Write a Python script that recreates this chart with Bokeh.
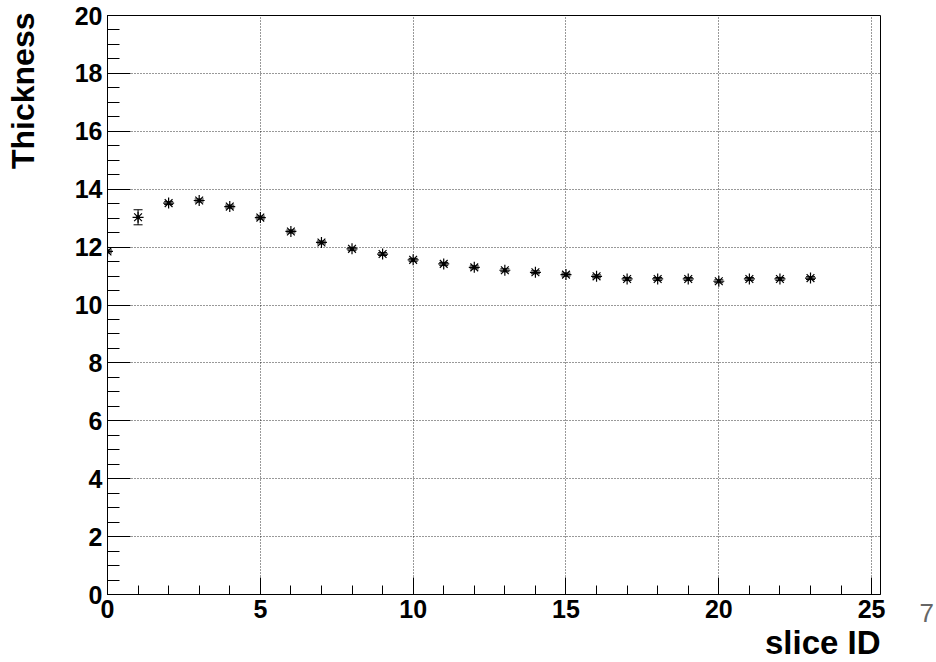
from bokeh.plotting import figure
from bokeh.models import (Range1d, SingleIntervalTicker, FixedTicker, Whisker, TeeHead,
                          ColumnDataSource, Title, LinearAxis)
from bokeh.embed import file_html
from bokeh.resources import INLINE

slice_id = list(range(24))
thickness = [11.85, 13.03, 13.52, 13.61, 13.40, 13.02, 12.54, 12.16, 11.94, 11.76,
             11.56, 11.42, 11.30, 11.20, 11.13, 11.05, 10.99, 10.90, 10.90, 10.90,
             10.82, 10.90, 10.90, 10.93]
thickness_err = [0.05, 0.26, 0.05, 0.05, 0.05, 0.05, 0.05, 0.05, 0.05, 0.05,
                 0.05, 0.05, 0.05, 0.05, 0.05, 0.05, 0.05, 0.05, 0.05, 0.05,
                 0.05, 0.05, 0.05, 0.05]
x_title = "slice ID"
y_title = "Thickness"
page_number = "7"

FONT = "Liberation Sans"

p = figure(width=936, height=662, output_backend="svg", toolbar_location=None,
           x_range=Range1d(0, 25.29), y_range=Range1d(0, 20),
           min_border_left=107, min_border_right=55, min_border_top=15, min_border_bottom=66)
p.background_fill_color = "white"
p.border_fill_color = "white"
p.outline_line_color = "black"
p.outline_line_width = 1

p.xaxis.ticker = SingleIntervalTicker(interval=5, num_minor_ticks=5)
p.yaxis.ticker = SingleIntervalTicker(interval=2, num_minor_ticks=4)

for ax in (p.xaxis, p.yaxis):
    ax.axis_line_color = "black"
    ax.major_tick_line_color = "black"
    ax.minor_tick_line_color = "black"
    ax.major_tick_out = 0
    ax.minor_tick_out = 0
    ax.major_label_text_font = FONT
    ax.major_label_text_font_style = "bold"
    ax.major_label_text_font_size = "25px"
    ax.major_label_text_color = "black"

p.xaxis.major_tick_in = 17
p.xaxis.minor_tick_in = 9
p.yaxis.major_tick_in = 23
p.yaxis.minor_tick_in = 12
p.xaxis.major_label_standoff = 5
p.yaxis.major_label_standoff = 5

for g in (p.xgrid, p.ygrid):
    g.grid_line_color = "black"
    g.grid_line_dash = "1 2"
    g.grid_line_width = 1
    g.grid_line_alpha = 0.8

src = ColumnDataSource(data=dict(
    x=slice_id, y=thickness,
    lo=[v - e for v, e in zip(thickness, thickness_err)],
    hi=[v + e for v, e in zip(thickness, thickness_err)],
))

p.add_layout(Whisker(source=src, base="x", lower="lo", upper="hi",
                     line_color="black", line_width=1,
                     lower_head=TeeHead(size=9, line_color="black", line_width=1),
                     upper_head=TeeHead(size=9, line_color="black", line_width=1)))
p.scatter("x", "y", source=src, marker="asterisk", size=11, line_color="black",
          line_width=1.2)
p.scatter("x", "y", source=src, marker="circle", size=3, fill_color="black",
          line_color="black")

# x title, right aligned like ROOT
p.add_layout(Title(text=x_title, align="right", text_font=FONT, text_font_style="bold",
                   text_font_size="33px", text_color="black", standoff=3), "below")

# y title, placed near the top end of the axis (as a single rotated axis label)
y_title_pos = 17.4
yt_axis = LinearAxis(ticker=FixedTicker(ticks=[y_title_pos]),
                     major_label_overrides={y_title_pos: y_title},
                     major_label_orientation="vertical")
yt_axis.axis_line_color = None
yt_axis.major_tick_line_color = None
yt_axis.minor_tick_line_color = None
yt_axis.major_tick_out = 0
yt_axis.major_label_standoff = 30
yt_axis.major_label_text_font = FONT
yt_axis.major_label_text_font_style = "bold"
yt_axis.major_label_text_font_size = "32px"
yt_axis.major_label_text_color = "black"
p.add_layout(yt_axis, "left")

# page number at the right, next to the lower corner
pn_axis = LinearAxis(ticker=FixedTicker(ticks=[0]),
                     major_label_overrides={0: "\n" + page_number})
pn_axis.axis_line_color = None
pn_axis.major_tick_line_color = None
pn_axis.minor_tick_line_color = None
pn_axis.major_label_standoff = 33
pn_axis.major_label_text_font = FONT
pn_axis.major_label_text_font_size = "26px"
pn_axis.major_label_text_color = "#666666"
p.add_layout(pn_axis, "right")

open("out.html", "w").write(file_html(p, INLINE))
